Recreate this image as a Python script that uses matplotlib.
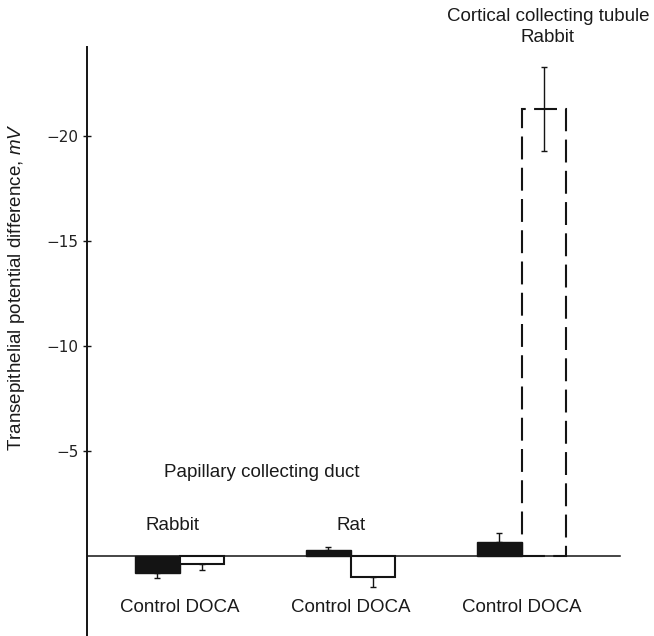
import matplotlib
matplotlib.use("Agg")
import matplotlib.pyplot as plt
import numpy as np

plt.rcParams['font.family'] = ['Liberation Sans', 'DejaVu Sans']
plt.rcParams['mathtext.fontset'] = 'custom'
plt.rcParams['mathtext.rm'] = 'Liberation Sans'
plt.rcParams['mathtext.it'] = 'Liberation Sans:italic'

# ---- data (transepithelial PD, mV; negative = lumen negative) ----
groups = ["Rabbit", "Rat", "Rabbit"]
conditions = ["Control", "DOCA"]
control_vals = [0.8, -0.3, -0.65]
control_err = [0.25, 0.15, 0.45]
doca_vals = [0.4, 1.0, -21.3]
doca_err = [0.25, 0.5, 2.0]
doca_two_sided = [False, False, True]
yticks = [-20, -15, -10, -5]
ytick_labels = ["\u221220", "\u221215", "\u221210", "\u22125"]

fig = plt.figure(figsize=(6.54, 6.36), dpi=100)
ax = fig.add_axes([87/654, 0.0, (654-87)/654, (636-47)/636])
ax.set_xlim(-0.542, 2.774)
ax.set_ylim(3.81, -24.24)

x = np.arange(len(groups))
w = 0.26
ink = '#141414'

ax.axhline(0, xmin=0, xmax=0.94, color=ink, lw=1.1, zorder=1)

# control bars (filled)
ax.bar(x - w/2, control_vals, w, color=ink, edgecolor=ink, lw=1.0, zorder=3)
# DOCA bars (open); cortical one dashed
for i in range(len(groups)):
    if doca_two_sided[i]:
        ax.bar(x[i] + w/2, doca_vals[i], w, fill=False, edgecolor=ink, lw=1.5,
               linestyle=(0, (11, 4)), zorder=3)
    else:
        ax.bar(x[i] + w/2, doca_vals[i], w, facecolor='white', edgecolor=ink,
               lw=1.5, zorder=3)

def outward(vals, errs, two_sided=None):
    lo, hi = [], []
    for k, (v, e) in enumerate(zip(vals, errs)):
        if two_sided is not None and two_sided[k]:
            lo.append(e); hi.append(e)
        elif v < 0:
            lo.append(e); hi.append(0)
        else:
            lo.append(0); hi.append(e)
    return [lo, hi]

ax.errorbar(x - w/2, control_vals, yerr=outward(control_vals, control_err),
            fmt='none', ecolor=ink, elinewidth=1.0, capsize=2, capthick=1.0, zorder=4)
ax.errorbar(x + w/2, doca_vals, yerr=outward(doca_vals, doca_err, doca_two_sided),
            fmt='none', ecolor=ink, elinewidth=1.0, capsize=2, capthick=1.0, zorder=4)

for s in ['top', 'right', 'bottom']:
    ax.spines[s].set_visible(False)
ax.spines['left'].set_linewidth(1.4)
ax.spines['left'].set_color(ink)
ax.set_xticks([])
ax.set_yticks(yticks)
ax.set_yticklabels(ytick_labels, family='DejaVu Sans', fontsize=11, color='#222222')
ax.tick_params(axis='y', direction='inout', length=6, width=1.0, pad=3, color=ink)

fs = 13.5
tc = '#1a1a1a'
for i in range(len(groups)):
    ax.text(x[i], 2.43, " ".join(conditions), ha='center', va='center', fontsize=fs,
            color=tc, clip_on=False)
ax.text(x[0] - 0.04, -1.43, groups[0], ha='center', va='center', fontsize=fs, color=tc)
ax.text(x[1], -1.43, groups[1], ha='center', va='center', fontsize=fs, color=tc)
ax.text(0.48, -4.0, "Papillary collecting duct", ha='center', va='center', fontsize=fs, color=tc)
ax.text(2.154, -25.67, "Cortical collecting tubule", ha='center', va='center', fontsize=fs,
        color=tc, clip_on=False)
ax.text(2.154, -24.71, groups[2], ha='center', va='center', fontsize=fs, color=tc, clip_on=False)

fig.text(17/654, 1 - 287/636, "Transepithelial potential difference, $\\mathit{mV}$",
         rotation=90, ha='center', va='center', fontsize=fs, color=tc)

fig.savefig("out.png", dpi=100, facecolor='white')
